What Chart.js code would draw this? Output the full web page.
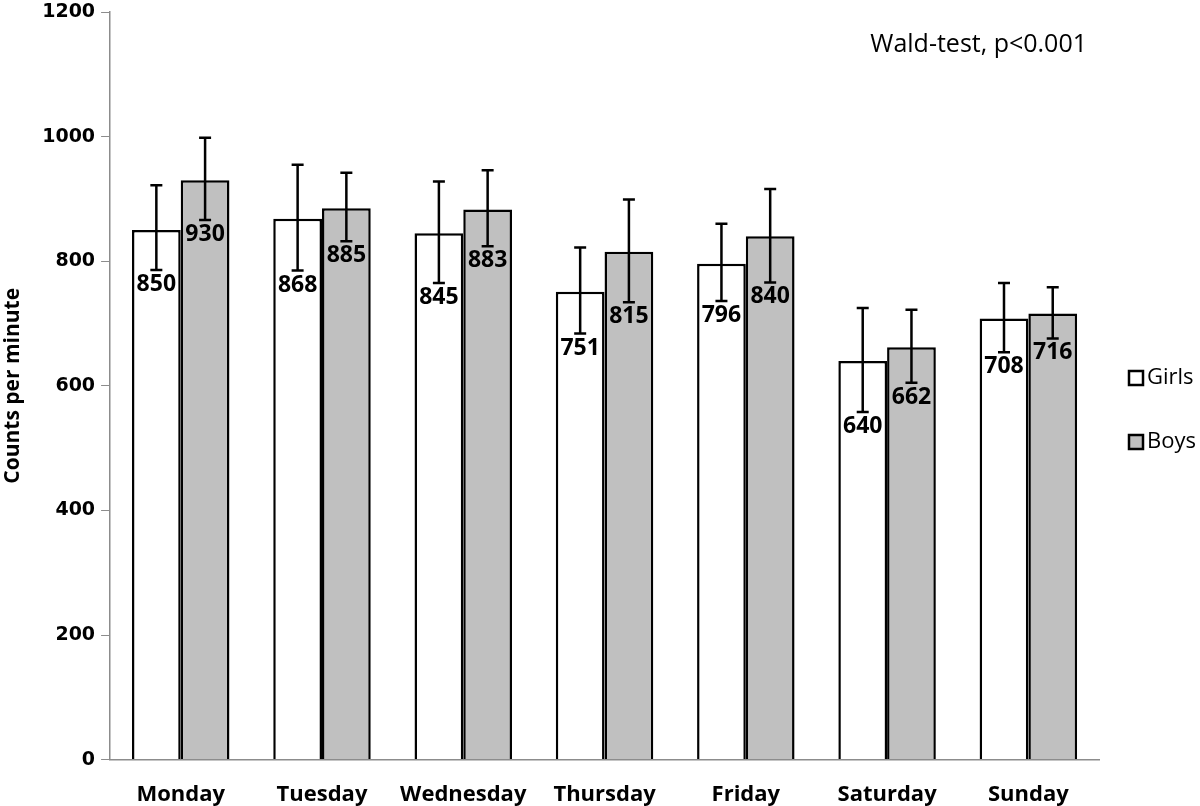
<!DOCTYPE html>
<html>
<head>
<meta charset="utf-8">
<title>Counts per minute by weekday</title>
<script src="https://cdn.jsdelivr.net/npm/chart.js@4/dist/chart.umd.min.js"></script>
<style>
    html, body { margin: 0; padding: 0; background: #fff; }
    #wrap { width: 1200px; height: 806px; position: relative; }
</style>
</head>
<body>
<div id="wrap"><canvas id="chart"></canvas></div>
<script>
// Chart data
const days = ['Monday', 'Tuesday', 'Wednesday', 'Thursday', 'Friday', 'Saturday', 'Sunday'];
const girls = [850, 868, 845, 751, 796, 640, 708];
const boys = [930, 885, 883, 815, 840, 662, 716];
// error bar ends
const girlsLow = [786, 785, 765, 684, 736, 558, 654];
const girlsHigh = [922, 955, 928, 822, 860, 725, 765];
const boysLow = [866, 832, 824, 734, 766, 605, 676];
const boysHigh = [998, 942, 946, 899, 916, 722, 758];
const yTicks = [0, 200, 400, 600, 800, 1000, 1200];
const note = 'Wald-test, p<0.001';

const labelFont = '"Open Sans", "DejaVu Sans", sans-serif';

// Draws error bars, value labels, the note and the legend
const extrasPlugin = {
    id: 'extras',
    afterDatasetsDraw(chart) {
        const ctx = chart.ctx;
        const y = chart.scales.y;
        const ranges = [[girlsLow, girlsHigh], [boysLow, boysHigh]];

        chart.data.datasets.forEach((ds, i) => {
            const meta = chart.getDatasetMeta(i);
            meta.data.forEach((bar, j) => {
                const x = bar.x;
                const lo = y.getPixelForValue(ranges[i][0][j]);
                const hi = y.getPixelForValue(ranges[i][1][j]);
                ctx.save();
                ctx.strokeStyle = '#000';
                ctx.lineWidth = 2.5;
                ctx.beginPath();
                ctx.moveTo(x, lo); ctx.lineTo(x, hi);
                ctx.moveTo(x - 6, lo); ctx.lineTo(x + 6, lo);
                ctx.moveTo(x - 6, hi); ctx.lineTo(x + 6, hi);
                ctx.stroke();

                // value label just under the lower cap
                ctx.fillStyle = '#000';
                ctx.font = 'bold 23px ' + labelFont;
                ctx.textAlign = 'center';
                ctx.textBaseline = 'top';
                ctx.fillText(ds.data[j], x, lo + 3);
                ctx.restore();
            });
        });
    },
    afterDraw(chart) {
        const ctx = chart.ctx;
        const area = chart.chartArea;
        ctx.save();
        ctx.fillStyle = '#000';
        ctx.font = '25px ' + labelFont;
        ctx.textAlign = 'right';
        ctx.textBaseline = 'middle';
        ctx.fillText(note, area.right - 12, 45);

        // legend
        const items = chart.data.datasets;
        items.forEach((ds, i) => {
            const ly = 378 + i * 64;
            const lx = area.right + 30;
            ctx.fillStyle = ds.backgroundColor;
            ctx.fillRect(lx, ly - 7, 14, 14);
            ctx.strokeStyle = '#000';
            ctx.lineWidth = 2.5;
            ctx.strokeRect(lx, ly - 7, 14, 14);
            ctx.fillStyle = '#000';
            ctx.textAlign = 'left';
            ctx.font = '22px ' + labelFont;
            ctx.fillText(ds.label, lx + 18, ly);
        });
        ctx.restore();
    }
};

new Chart(document.getElementById('chart'), {
    type: 'bar',
    data: {
        labels: days,
        datasets: [{
            label: 'Girls',
            data: girls,
            backgroundColor: '#ffffff',
            borderColor: '#000000',
            borderWidth: 2.5,
            borderSkipped: 'bottom'
        }, {
            label: 'Boys',
            data: boys,
            backgroundColor: '#c0c0c0',
            borderColor: '#000000',
            borderWidth: 2.5,
            borderSkipped: 'bottom'
        }]
    },
    options: {
        responsive: true,
        maintainAspectRatio: false,
        animation: false,
        layout: {
            padding: { top: 0, right: 101, bottom: -24, left: 0 }
        },
        datasets: {
            bar: {
                categoryPercentage: 0.69,
                barPercentage: 1.0
            }
        },
        plugins: {
            legend: { display: false },
            tooltip: { enabled: false }
        },
        scales: {
            x: {
                grid: {
                    display: true,
                    drawOnChartArea: false,
                    drawTicks: false,
                    color: '#8c8c8c'
                },
                border: { color: '#8c8c8c', width: 1.5 },
                ticks: {
                    color: '#000',
                    padding: 22,
                    font: { family: labelFont, size: 22, weight: 'bold' }
                }
            },
            y: {
                min: 0,
                max: 1200,
                afterBuildTicks(scale) {
                    scale.ticks = yTicks.map(v => ({ value: v }));
                },
                afterFit(scale) {
                    // let the top label run to the edge, as in the original
                    scale.paddingTop = 12;
                },
                grid: {
                    drawOnChartArea: false,
                    tickLength: 9,
                    color: '#8c8c8c'
                },
                border: { color: '#8c8c8c', width: 1.5 },
                ticks: {
                    color: '#000',
                    padding: 6,
                    callback: (v) => String(v),
                    font: { family: '"DejaVu Sans", sans-serif', size: 19, weight: 'bold' }
                },
                title: {
                    display: true,
                    text: 'Counts per minute',
                    color: '#000',
                    padding: { top: 0, bottom: 11 },
                    font: { family: labelFont, size: 21, weight: 'bold' }
                }
            }
        }
    },
    plugins: [extrasPlugin]
});
</script>
</body>
</html>
